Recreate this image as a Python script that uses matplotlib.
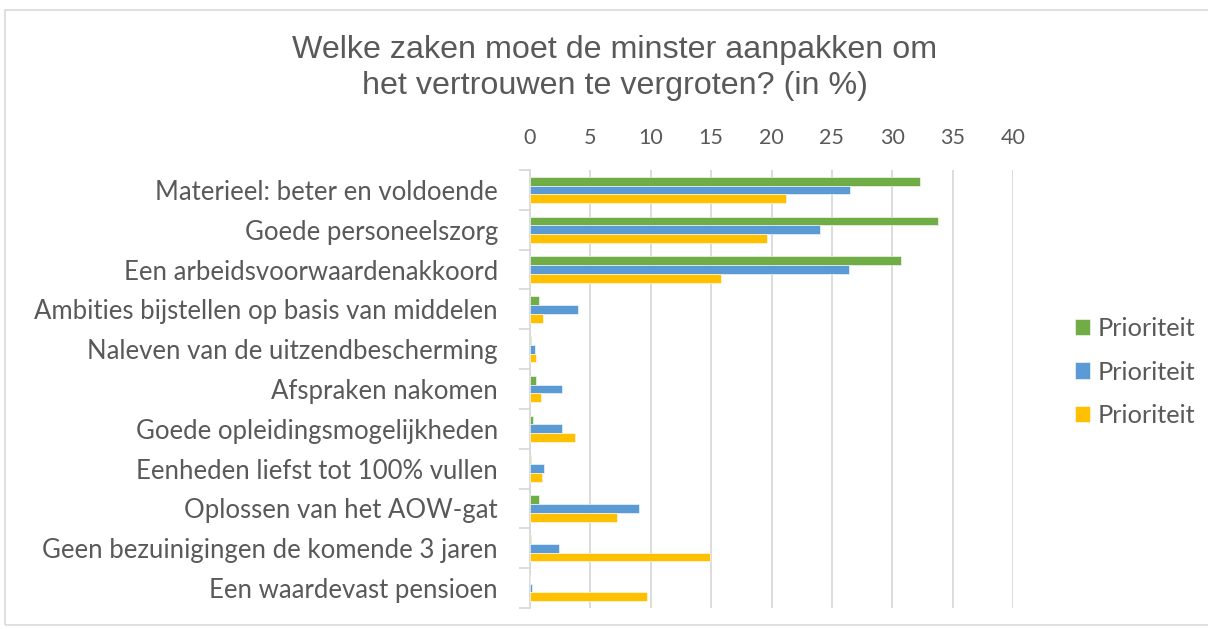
import numpy as np
import matplotlib
matplotlib.use("Agg")
import matplotlib.pyplot as plt
from matplotlib.patches import Rectangle

# Gegevens
categorieen = [
    "Materieel: beter en voldoende",
    "Goede personeelszorg",
    "Een arbeidsvoorwaardenakkoord",
    "Ambities bijstellen op basis van middelen",
    "Naleven van de uitzendbescherming",
    "Afspraken nakomen",
    "Goede opleidingsmogelijkheden",
    "Eenheden liefst tot 100% vullen",
    "Oplossen van het AOW-gat",
    "Geen bezuinigingen de komende 3 jaren",
    "Een waardevast pensioen",
]
groen = [32.3, 33.8, 30.7, 0.75, 0.08, 0.5, 0.25, 0.08, 0.77, 0.08, 0.0]
blauw = [26.5, 24.0, 26.4, 3.95, 0.44, 2.62, 2.62, 1.16, 9.06, 2.4, 0.17]
geel = [21.2, 19.6, 15.8, 1.08, 0.47, 0.88, 3.73, 1.02, 7.2, 14.94, 9.7]
reeksen = ["Prioriteit", "Prioriteit", "Prioriteit"]
x_ticks = [0, 5, 10, 15, 20, 25, 30, 35, 40]

tekst_kleur = "#595959"
grid_kleur = "#D9D9D9"
kleuren = ["#70AD47", "#5B9BD5", "#FFC000"]

plt.rcParams["font.family"] = ["Lato", "DejaVu Sans"]

fig = plt.figure(figsize=(12.08, 6.29), dpi=100)
ax = fig.add_axes([530 / 1208, 1 - 608 / 629, 483 / 1208, 438 / 629])

# Rand rond de grafiek
fig.patches.append(Rectangle((5 / 1208, 4 / 629), 1.2, 1 - 14 / 629,
                             transform=fig.transFigure, fill=False,
                             edgecolor=grid_kleur, linewidth=1.2))

y = np.arange(len(categorieen))
h = 0.22
for waarden, kleur, naam, off in zip([groen, blauw, geel], kleuren, reeksen, [-h, 0, h]):
    ax.barh(y + off, waarden, height=h, color=kleur, label=naam, zorder=3,
            edgecolor="white", linewidth=0.4)

ax.set_xlim(0, 40)
ax.set_ylim(len(categorieen) - 0.5, -0.5)
ax.set_xticks(x_ticks)
ax.xaxis.tick_top()
ax.tick_params(axis="x", length=0, labelsize=15.5, colors=tekst_kleur, pad=16)
ax.grid(axis="x", color=grid_kleur, linewidth=1.3, zorder=0)

ax.set_yticks(y)
ax.set_yticklabels(categorieen)
ax.tick_params(axis="y", length=0, labelsize=18.5, colors=tekst_kleur, pad=23)
ax.set_yticks(np.arange(len(categorieen) + 1) - 0.5, minor=True)
ax.tick_params(axis="y", which="minor", length=8, color=grid_kleur, width=1.3)

for kant in ["top", "right", "bottom"]:
    ax.spines[kant].set_visible(False)
ax.spines["left"].set_color(grid_kleur)
ax.spines["left"].set_linewidth(1.3)

fig.text(0.509, 1 - 50 / 629, "Welke zaken moet de minster aanpakken om",
         ha="center", va="center", fontsize=23.2, color=tekst_kleur,
         family=["Liberation Sans", "DejaVu Sans"])
fig.text(0.509, 1 - 86 / 629, "het vertrouwen te vergroten? (in %)",
         ha="center", va="center", fontsize=23.2, color=tekst_kleur,
         family=["Liberation Sans", "DejaVu Sans"])

fig.legend(loc="center left", bbox_to_anchor=(1075 / 1208, 1 - 372 / 629),
           frameon=False, fontsize=18.3, labelcolor=tekst_kleur,
           handlelength=0.6, handleheight=0.6, handletextpad=0.3,
           labelspacing=0.8, borderpad=0, borderaxespad=0)

fig.savefig("out.png", dpi=100)
